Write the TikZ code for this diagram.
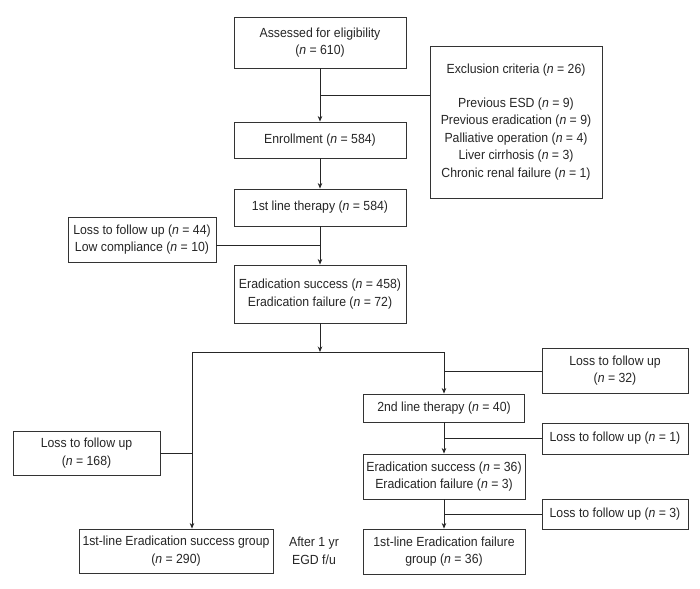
\documentclass[tikz,border=0pt]{standalone}
\usepackage{fontspec}
\setmainfont{Liberation Sans}[FakeStretch=0.93]
\usetikzlibrary{arrows.meta}
\newcommand{\nval}[1]{(\textit{n} = #1)}
\begin{document}
\begin{tikzpicture}[x=1pt,y=-1pt,
  box/.style={draw=black!80, line width=0.9pt, rectangle, align=center, inner sep=0pt,
    font=\fontsize{13.2}{17.5}\selectfont, text=black!85},
  plain/.style={align=center, inner sep=0pt, font=\fontsize{13.2}{17.5}\selectfont, text=black!85},
  conn/.style={draw=black!85, line width=0.8pt},
  arr/.style={conn, -{Stealth[length=5.5pt,width=4.5pt]}}]
\useasboundingbox[fill=white] (0,0) rectangle (700,588);

\node[box, minimum width=172pt, minimum height=51pt] (A) at (320,42.5) {Assessed for eligibility\\\nval{610}};
\node[box, minimum width=172pt, minimum height=152pt] (Ex) at (516,122) {Exclusion criteria \nval{26}\\[16.5pt]Previous ESD \nval{9}\\Previous eradication \nval{9}\\Palliative operation \nval{4}\\Liver cirrhosis \nval{3}\\Chronic renal failure \nval{1}};
\node[box, minimum width=172pt, minimum height=36pt] (En) at (320,140) {Enrollment \nval{584}};
\node[box, minimum width=172pt, minimum height=37pt] (T1) at (320,207.5) {1st line therapy \nval{584}};
\node[box, minimum width=148pt, minimum height=45pt] (L44) at (142,239.5) {Loss to follow up \nval{44}\\Low compliance \nval{10}};
\node[box, minimum width=172pt, minimum height=58pt] (E1) at (320,294) {Eradication success \nval{458}\\Eradication failure \nval{72}};
\node[box, minimum width=147pt, minimum height=44pt] (L168) at (86.5,453) {Loss to follow up\\\nval{168}};
\node[box, minimum width=194pt, minimum height=44pt] (S) at (176,551) {1st-line Eradication success group\\\nval{290}};
\node[box, minimum width=161pt, minimum height=28pt] (T2) at (444,408) {2nd line therapy \nval{40}};
\node[box, minimum width=162pt, minimum height=45pt] (E2) at (444,476.5) {Eradication success \nval{36}\\Eradication failure \nval{3}};
\node[box, minimum width=162pt, minimum height=45pt] (F) at (444,551.5) {1st-line Eradication failure\\group \nval{36}};
\node[box, minimum width=146pt, minimum height=45pt] (L32) at (615,370.5) {Loss to follow up\\\nval{32}};
\node[box, minimum width=146pt, minimum height=31pt] (L1) at (615,438.5) {Loss to follow up \nval{1}};
\node[box, minimum width=146pt, minimum height=30pt] (L3) at (615,514) {Loss to follow up \nval{3}};
\node[plain] (fu) at (314,551) {After 1 yr\\EGD f/u};

\coordinate (j1) at (320,95);
\coordinate (j2) at (320,245);
\coordinate (sp) at (320,352);
\coordinate (sL) at (192,352);
\coordinate (sR) at (444,352);
\coordinate (j3) at (192,453);
\coordinate (j4) at (444,371);
\coordinate (j5) at (444,438);
\coordinate (j6) at (444,514);

\draw[arr] (A) -- (En);
\draw[conn] (Ex.west |- j1) -- (j1);
\draw[arr] (En) -- (T1);
\draw[arr] (T1) -- (E1);
\draw[conn] (L44.east |- j2) -- (j2);
\draw[arr] (E1) -- (sp);
\draw[conn] (sL) -- (sR);
\draw[arr] (sL) -- (sL |- S.north);
\draw[conn] (L168.east |- j3) -- (j3);
\draw[arr] (sR) -- (T2.north);
\draw[conn] (L32.west |- j4) -- (j4);
\draw[arr] (T2) -- (E2);
\draw[conn] (L1.west |- j5) -- (j5);
\draw[arr] (E2) -- (F);
\draw[conn] (L3.west |- j6) -- (j6);
\end{tikzpicture}
\end{document}
